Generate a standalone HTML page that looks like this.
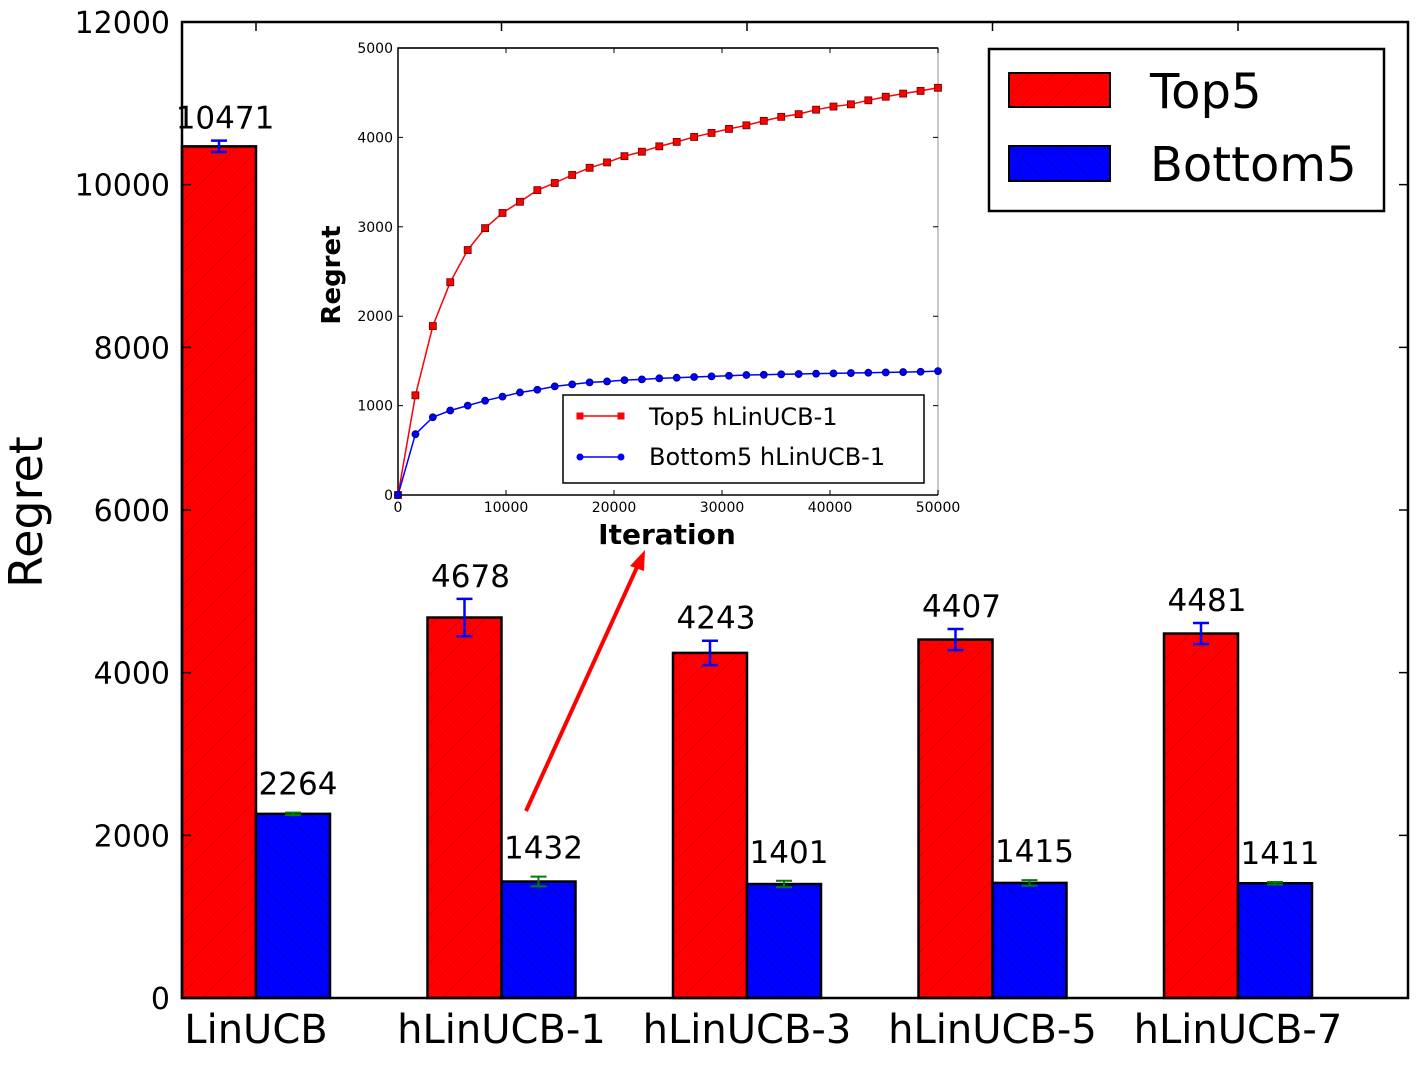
<!DOCTYPE html>
<html><head><meta charset="utf-8"><style>
html,body{margin:0;padding:0;background:#fff;}
svg{display:block;font-family:"DejaVu Sans","Liberation Sans",sans-serif;}
</style></head><body>
<svg id="chart" width="1420" height="1065" viewBox="0 0 1420 1065" xmlns="http://www.w3.org/2000/svg">
<defs>
<pattern id="hatchR" width="24" height="24" patternUnits="userSpaceOnUse"><rect width="24" height="24" fill="#ff0000"/><path d="M0 24 L24 0" stroke="#d00000" stroke-width="1" opacity="0.6"/></pattern>
<pattern id="hatchB" width="24" height="24" patternUnits="userSpaceOnUse"><rect width="24" height="24" fill="#0000ff"/><path d="M0 0 L24 24" stroke="#0000b0" stroke-width="1" opacity="0.6"/></pattern>
</defs>
<g id="main"></g>
<g id="inset"></g>
</svg>
<script>
const NS="http://www.w3.org/2000/svg";
const categories=["LinUCB","hLinUCB-1","hLinUCB-3","hLinUCB-5","hLinUCB-7"];
const top5=[10471,4678,4243,4407,4481];
const top5Err=[70,230,150,130,130];
const bottom5=[2264,1432,1401,1415,1411];
const bottom5Err=[15,60,40,35,15];
const yTicks=[0,2000,4000,6000,8000,10000,12000];
const insetX=[0,1613,3226,4839,6452,8065,9677,11290,12903,14516,16129,17742,19355,20968,22581,24194,25806,27419,29032,30645,32258,33871,35484,37097,38710,40323,41935,43548,45161,46774,48387,50000];
const insetTop=[0,1115,1890,2380,2740,2985,3155,3280,3410,3490,3580,3660,3720,3790,3840,3900,3950,4005,4050,4095,4135,4185,4230,4260,4310,4345,4370,4415,4455,4490,4520,4555];
const insetBottom=[0,680,870,945,1000,1055,1100,1147,1177,1215,1237,1260,1270,1285,1293,1305,1312,1320,1327,1334,1342,1345,1350,1353,1357,1360,1364,1368,1371,1375,1379,1386];
const insetXTicks=[0,10000,20000,30000,40000,50000];
const insetYTicks=[0,1000,2000,3000,4000,5000];

function el(tag,attrs,parent,text){const e=document.createElementNS(NS,tag);for(const k in attrs)e.setAttribute(k,attrs[k]);if(text!==undefined)e.textContent=text;parent.appendChild(e);return e;}

// main axes
const L=182,R=1408,T=22,B=998,YMAX=12000;
const y=v=>B-(v/YMAX)*(B-T);
const groupX=i=>L+i*245.5;
const BW=74;
const main=document.getElementById('main');
categories.forEach((c,i)=>{
  const x0=groupX(i);
  let r=el('rect',{x:x0,y:y(top5[i]),width:BW,height:B-y(top5[i]),fill:'url(#hatchR)',stroke:'#000','stroke-width':2.5},main);
  
  
  let b=el('rect',{x:x0+BW,y:y(bottom5[i]),width:BW,height:B-y(bottom5[i]),fill:'url(#hatchB)',stroke:'#000','stroke-width':2.5},main);
  
  
  // error bars
  const cx1=x0+BW/2, cx2=x0+BW*1.5;
  let e1=el('path',{d:`M${cx1} ${y(top5[i]+top5Err[i])}V${y(top5[i]-top5Err[i])}M${cx1-8} ${y(top5[i]+top5Err[i])}h16M${cx1-8} ${y(top5[i]-top5Err[i])}h16`,stroke:'#0000ff','stroke-width':2.5,fill:'none'},main);
  
  
  let e2=el('path',{d:`M${cx2} ${y(bottom5[i]+bottom5Err[i])}V${y(bottom5[i]-bottom5Err[i])}M${cx2-8} ${y(bottom5[i]+bottom5Err[i])}h16M${cx2-8} ${y(bottom5[i]-bottom5Err[i])}h16`,stroke:'#008000','stroke-width':2,fill:'none'},main);
  
  
  let t1=el('text',{x:cx1+6,y:y(top5[i]+top5Err[i])-12,'font-size':31,'text-anchor':'middle'},main,String(top5[i]));
  
  
  let t2=el('text',{x:cx2+5,y:y(bottom5[i]+bottom5Err[i])-18,'font-size':31,'text-anchor':'middle'},main,String(bottom5[i]));
  
  
  let xl=el('text',{x:x0+BW,y:1043,'font-size':40,'text-anchor':'middle'},main,c);
  
  
});
yTicks.forEach(v=>{
  let t=el('text',{x:170,y:y(v)+11,'font-size':30,'text-anchor':'end'},main,String(v));
  
  
  let tk=el('path',{d:`M${L} ${y(v)}h9M${R} ${y(v)}h-9`,stroke:'#000','stroke-width':1.5},main);
  
  
});
categories.forEach((c,i)=>{
  let tk=el('path',{d:`M${groupX(i)+BW} ${B}v-9M${groupX(i)+BW} ${T}v9`,stroke:'#000','stroke-width':1.5},main);
  
  
});
let fr=el('rect',{x:L,y:T,width:R-L,height:B-T,fill:'none',stroke:'#000','stroke-width':2.5},main);

let yt=el('text',{x:0,y:0,'font-size':46,'text-anchor':'middle',transform:'translate(42,512) rotate(-90)'},main,'Regret');

// arrow
let ar=el('path',{d:'M526 811 L638 565',stroke:'#ff0000','stroke-width':4,fill:'none'},main);

let ah=el('path',{d:'M645 550 L630 566 L644 571 Z',fill:'#ff0000'},main);

// legend
const lg=el('g',{},main);
el('rect',{x:989,y:49,width:395,height:162,fill:'#fff',stroke:'#000','stroke-width':2.5},lg);
let lr=el('rect',{x:1009,y:73,width:101,height:34,fill:'url(#hatchR)',stroke:'#000','stroke-width':2},lg);

let lb=el('rect',{x:1009,y:146,width:101,height:35,fill:'url(#hatchB)',stroke:'#000','stroke-width':2},lg);

let lt1=el('text',{x:1150,y:108,'font-size':48},lg,'Top5');

let lt2=el('text',{x:1150,y:181,'font-size':48},lg,'Bottom5');


// inset
const IL=398,IR=938,IT=48,IB=495;
const ix=v=>IL+v/50000*(IR-IL);
const iy=v=>IB-v/5000*(IB-IT);
const ins=document.getElementById('inset');
let ibg=el('rect',{x:IL,y:IT,width:IR-IL,height:IB-IT,fill:'#fff',stroke:'none'},ins);

el('path',{d:`M${IL} ${IT}H${IR}V${IB}`,stroke:'#c8c8c8','stroke-width':2,fill:'none'},ins);
el('path',{d:`M${IR} ${IB}H${IL}V${IT}H${IR}`,stroke:'#000','stroke-width':1.5,fill:'none'},ins);
insetYTicks.forEach(v=>{
  let t=el('text',{x:393,y:iy(v)+5,'font-size':14,'text-anchor':'end'},ins,String(v));
  
  let tk=el('path',{d:`M${IL} ${iy(v)}h5M${IR} ${iy(v)}h-5`,stroke:'#000','stroke-width':1},ins);
  
});
insetXTicks.forEach(v=>{
  let t=el('text',{x:ix(v),y:512,'font-size':14,'text-anchor':'middle'},ins,String(v));
  
  let tk=el('path',{d:`M${ix(v)} ${IB}v-5M${ix(v)} ${IT}v5`,stroke:'#000','stroke-width':1},ins);
  
});
let ixt=el('text',{x:667,y:544,'font-size':28,'font-weight':'bold','text-anchor':'middle'},ins,'Iteration');

let iyt=el('text',{x:0,y:0,'font-size':26,'font-weight':'bold','text-anchor':'middle',transform:'translate(340,275) rotate(-90)'},ins,'Regret');

let lineT=el('polyline',{points:insetX.map((v,i)=>ix(v)+','+iy(insetTop[i])).join(' '),stroke:'#ff0000','stroke-width':1.5,fill:'none'},ins);

let lineB=el('polyline',{points:insetX.map((v,i)=>ix(v)+','+iy(insetBottom[i])).join(' '),stroke:'#0000ff','stroke-width':1.5,fill:'none'},ins);

insetX.forEach((v,i)=>{
  let m=el('rect',{x:ix(v)-3.5,y:iy(insetTop[i])-3.5,width:7,height:7,fill:'#ff0000',stroke:'#600','stroke-width':0.8},ins);
  
  let c=el('circle',{cx:ix(v),cy:iy(insetBottom[i]),r:3.5,fill:'#0000ff',stroke:'#006','stroke-width':0.8},ins);
  
});
const ilg=el('g',{},ins);
el('rect',{x:563,y:395,width:361,height:88,fill:'#fff',stroke:'#000','stroke-width':1.5},ilg);
el('path',{d:'M580 416h41',stroke:'#ff0000','stroke-width':1.5},ilg);
el('rect',{x:576.5,y:412.5,width:7,height:7,fill:'#ff0000'},ilg);
el('rect',{x:617.5,y:412.5,width:7,height:7,fill:'#ff0000'},ilg);
el('path',{d:'M580 457h41',stroke:'#0000ff','stroke-width':1.5},ilg);
el('circle',{cx:580,cy:457,r:3.5,fill:'#0000ff'},ilg);
el('circle',{cx:621,cy:457,r:3.5,fill:'#0000ff'},ilg);
let il1=el('text',{x:649,y:425,'font-size':24},ilg,'Top5 hLinUCB-1');

let il2=el('text',{x:649,y:465,'font-size':24},ilg,'Bottom5 hLinUCB-1');

</script>
</body></html>
